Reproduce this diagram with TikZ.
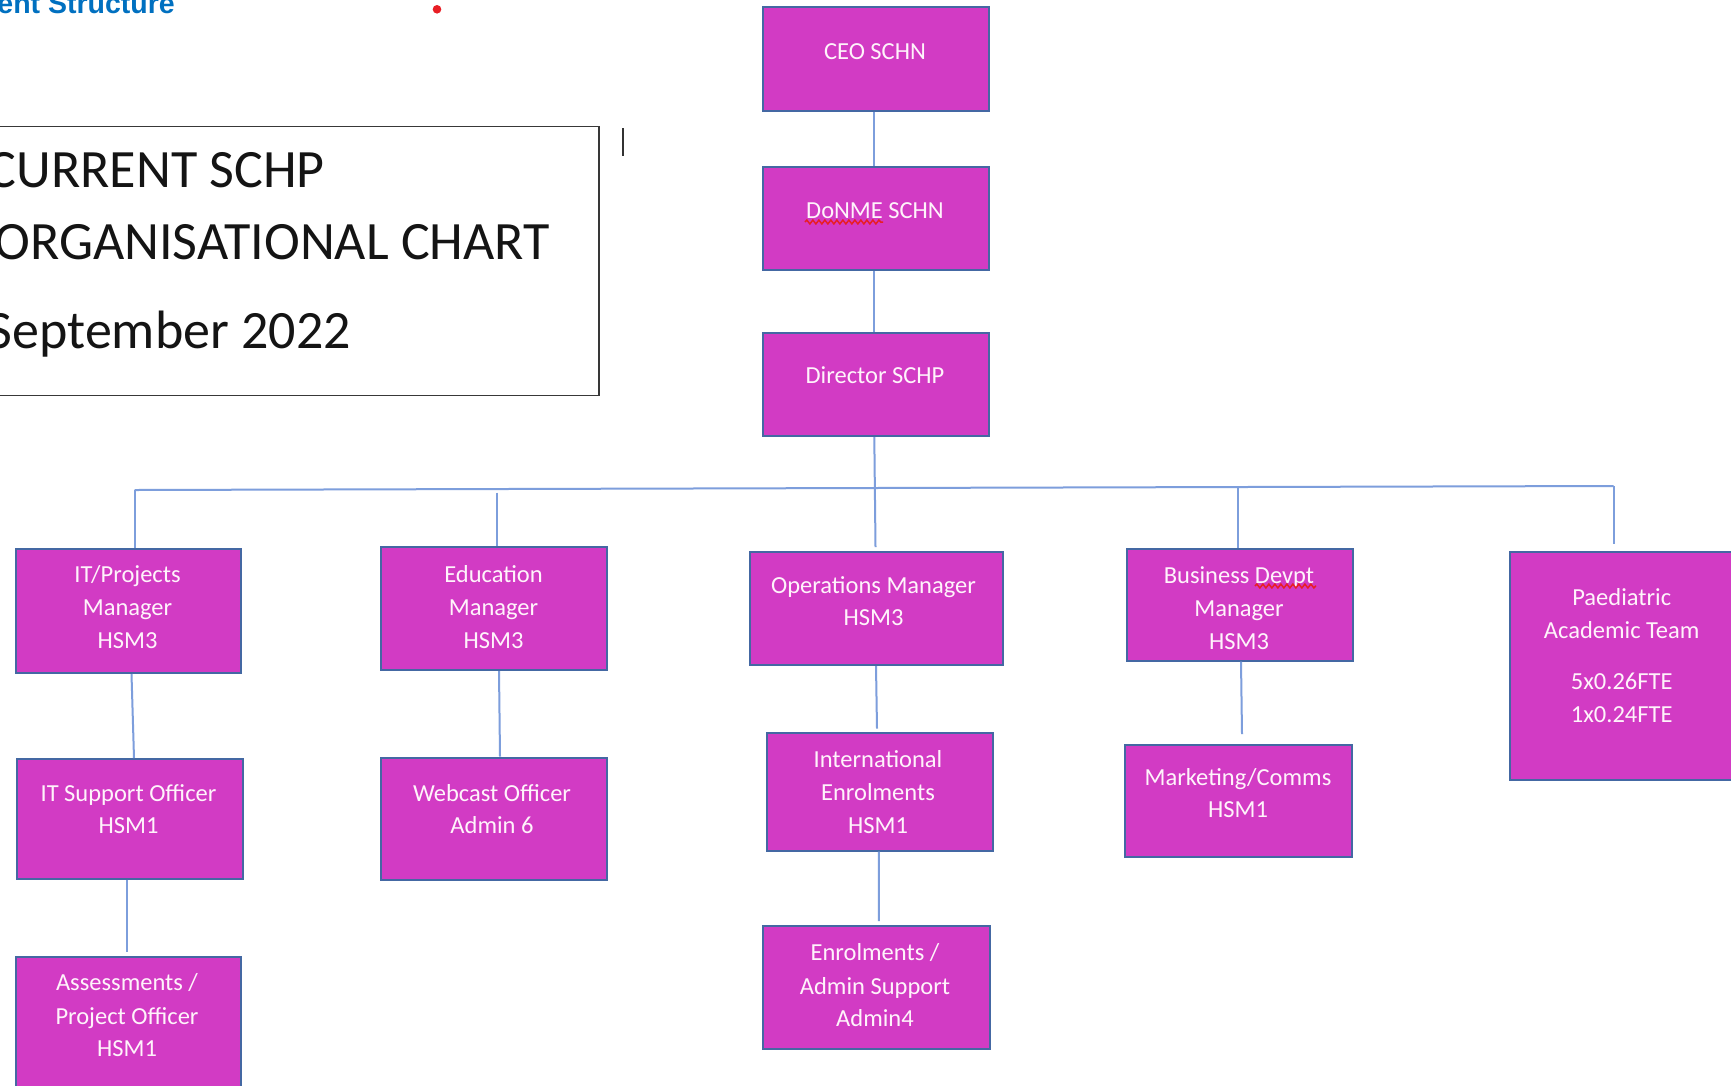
\documentclass[tikz,border=0pt]{standalone}
\usepackage{fontspec}
\setmainfont{Carlito}
\newfontfamily\headfont{Liberation Sans}
\usetikzlibrary{decorations.pathmorphing}
\definecolor{boxfill}{RGB}{210,59,196}
\definecolor{boxline}{RGB}{68,104,163}
\definecolor{boxtext}{RGB}{255,243,251}
\definecolor{connc}{RGB}{125,158,220}
\definecolor{headblue}{RGB}{0,112,192}
\definecolor{dotred}{RGB}{232,30,37}
\tikzset{
  orgbox/.style={draw=boxline, line width=2pt, fill=boxfill, rectangle, inner sep=0pt},
  ln/.style={font=\fontsize{24.5}{30}\selectfont, text=boxtext, inner sep=0pt, text height=16pt, text depth=0pt, anchor=center},
  conn/.style={draw=connc, line width=2pt},
  ttl/.style={font=\fontsize{54}{60}\selectfont, text=black!92, inner sep=0pt, anchor=base east},
  squig/.style={draw=dotred, line width=1.5pt, decorate, decoration={snake, segment length=6pt, amplitude=1.9pt}}
}
\begin{document}
\begin{tikzpicture}[x=1pt,y=-1pt]
\useasboundingbox (0,0) rectangle (1731,1085);
\clip (0,0) rectangle (1731,1085);
\fill[white] (0,0) rectangle (1731,1085);

% heading fragment, red dot, cursor
\node[anchor=base east, inner sep=0pt, font=\headfont\bfseries\fontsize{28.5}{30}\selectfont, text=headblue] (head) at (175,13) {ent Structure};
\fill[dotred] (437,9.3) circle (4.3pt);
\draw[line width=1.6pt, black!80] (623,128) -- (623,156);

% title box
\node[draw=black!78, line width=1.6pt, rectangle, inner sep=0pt, minimum width=629pt, minimum height=269pt] (tbox) at (284.5,261) {};
\node[ttl] (t1) at (325,187.5) {CURRENT SCHP};
\node[ttl] (t2) at (550,259.5) {ORGANISATIONAL CHART};
\node[ttl] (t3) at (351,348.5) {September 2022};

% boxes
\node[orgbox, minimum width=226pt, minimum height=103.5pt] (ceo) at (876,58.75) {};
\node[orgbox, minimum width=226pt, minimum height=103.5pt] (donme) at (876,218.25) {};
\node[orgbox, minimum width=226pt, minimum height=103.5pt] (dir) at (876,384.25) {};
\node[orgbox, minimum width=225.5pt, minimum height=124pt] (itpm) at (128.25,611) {};
\node[orgbox, minimum width=226pt, minimum height=123pt] (edu) at (494,608.5) {};
\node[orgbox, minimum width=253pt, minimum height=113pt] (ops) at (876,608.5) {};
\node[orgbox, minimum width=226pt, minimum height=111.5pt] (bus) at (1239.5,604.75) {};
\node[orgbox, minimum width=225pt, minimum height=228pt] (paed) at (1622,666) {};
\node[orgbox, minimum width=226pt, minimum height=119.5pt] (itso) at (129.5,818.75) {};
\node[orgbox, minimum width=226pt, minimum height=122.5pt] (web) at (494,818.75) {};
\node[orgbox, minimum width=226.5pt, minimum height=118pt] (intl) at (879.75,791.5) {};
\node[orgbox, minimum width=226.5pt, minimum height=112pt] (mkt) at (1238.5,801) {};
\node[orgbox, minimum width=225.5pt, minimum height=135.5pt] (asm) at (128.25,1024.25) {};
\node[orgbox, minimum width=227pt, minimum height=122.5pt] (enr) at (876.5,987.25) {};

% box texts
\node[ln] (ceo-a) at (875,51.5) {CEO SCHN};
\node[ln] (donme-a) at (875,210) {DoNME SCHN};
\node[ln] (dir-a) at (875,375.5) {Director SCHP};
\node[ln] (itpm-a) at (127.5,574) {IT/Projects};
\node[ln] (itpm-b) at (127.5,607.5) {Manager};
\node[ln] (itpm-c) at (127.5,640) {HSM3};
\node[ln] (edu-a) at (493.5,574) {Education};
\node[ln] (edu-b) at (493.5,607.5) {Manager};
\node[ln] (edu-c) at (493.5,640) {HSM3};
\node[ln] (ops-a) at (873.5,585) {Operations Manager};
\node[ln] (ops-b) at (873.5,617) {HSM3};
\node[ln] (bus-a) at (1239,575) {Business Devpt};
\node[ln] (bus-b) at (1239,608.5) {Manager};
\node[ln] (bus-c) at (1239,641) {HSM3};
\node[ln] (paed-a) at (1621.7,597.3) {Paediatric};
\node[ln] (paed-b) at (1621.7,630) {Academic Team};
\node[ln] (paed-c) at (1621.7,681.7) {5x0.26FTE};
\node[ln] (paed-d) at (1621.7,714) {1x0.24FTE};
\node[ln] (itso-a) at (128.5,793.5) {IT Support Officer};
\node[ln] (itso-b) at (128.5,825.5) {HSM1};
\node[ln] (web-a) at (492,793.5) {Webcast Officer};
\node[ln] (web-b) at (492,825.5) {Admin 6};
\node[ln] (intl-a) at (878,759) {International};
\node[ln] (intl-b) at (878,792) {Enrolments};
\node[ln] (intl-c) at (878,825) {HSM1};
\node[ln] (mkt-a) at (1238,777) {Marketing/Comms};
\node[ln] (mkt-b) at (1238,809) {HSM1};
\node[ln] (asm-a) at (127,982) {Assessments /};
\node[ln] (asm-b) at (127,1016) {Project Officer};
\node[ln] (asm-c) at (127,1048) {HSM1};
\node[ln] (enr-a) at (875,952.5) {Enrolments /};
\node[ln] (enr-b) at (875,986.5) {Admin Support};
\node[ln] (enr-c) at (875,1018) {Admin4};

% spelling squiggles
\draw[squig] (805,222) -- (883,222);
\draw[squig] (1255,586) -- (1316,586);

% connectors
\coordinate (hl) at (134.7,490);
\coordinate (hr) at (1613.5,486);
\coordinate (edutop) at (496.5,492.5);
\coordinate (bustop) at (1238,487.5);
\draw[conn] ([xshift=-2.5pt]ceo.south) -- ([xshift=-2.5pt]donme.north);
\draw[conn] ([xshift=-2pt]donme.south) -- ([xshift=-2pt]dir.north);
\draw[conn] ([xshift=-1.7pt]dir.south) -- ([xshift=-0.5pt,yshift=4pt]ops.north);
\draw[conn] (hl) -- (hr);
\draw[conn] (hl) -- (hl |- itpm.north);
\draw[conn] (edutop) -- (edutop |- edu.north);
\draw[conn] (bustop) -- (bustop |- bus.north);
\draw[conn] (hr) -- ([xshift=-8.5pt,yshift=7pt]paed.north);
\draw[conn] ([xshift=3.25pt]itpm.south) -- ([xshift=4.5pt]itso.north);
\draw[conn] ([xshift=5pt]edu.south) -- ([xshift=6pt]web.north);
\draw[conn] ([xshift=-2.5pt]itso.south) -- ([xshift=-1.25pt,yshift=4pt]asm.north);
\draw[conn] ([xshift=0pt]ops.south) -- ([xshift=-2.75pt,yshift=3pt]intl.north);
\draw[conn] ([xshift=-1pt]intl.south) -- ([xshift=2.3pt,yshift=4pt]enr.north);
\draw[conn] ([xshift=1.5pt]bus.south) -- ([xshift=3.5pt,yshift=10pt]mkt.north);
\end{tikzpicture}
\end{document}
